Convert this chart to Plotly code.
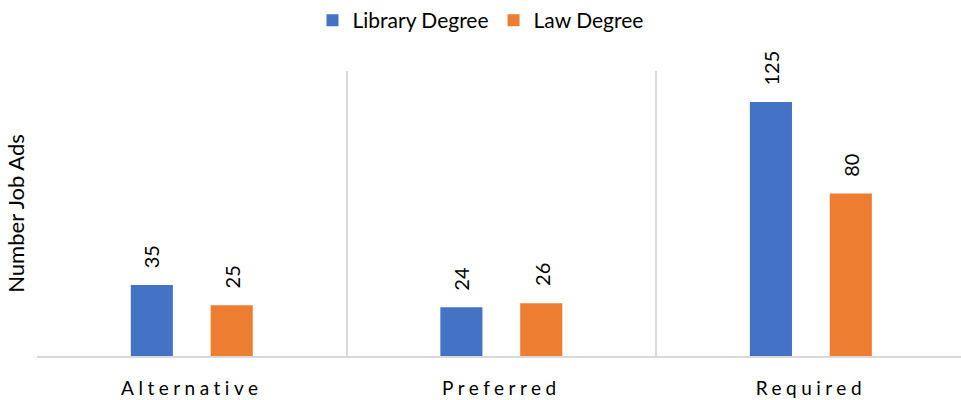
import plotly.graph_objects as go

# Job-ad counts by degree requirement
categories = ["Alternative", "Preferred", "Required"]
library_degree = [35, 24, 125]
law_degree = [25, 26, 80]
series_names = ["Library Degree", "Law Degree"]

BLUE = "#4472C4"
ORANGE = "#ED7D31"
GRID = "#D9D9D9"
FONT = "Lato, 'Open Sans', sans-serif"

fig = go.Figure()
fig.add_trace(go.Bar(name=series_names[0], x=categories, y=library_degree,
                     marker=dict(color=BLUE, line=dict(width=0))))
fig.add_trace(go.Bar(name=series_names[1], x=categories, y=law_degree,
                     marker=dict(color=ORANGE, line=dict(width=0))))

# value labels, rotated, sitting a little above each bar
group_half = 0.129
for i, cat in enumerate(categories):
    for vals, dx in ((library_degree, -group_half), (law_degree, group_half)):
        fig.add_annotation(x=i + dx, y=vals[i], text=str(vals[i]), textangle=-90,
                           showarrow=False, xanchor="center", yanchor="bottom",
                           yshift=15, font=dict(family=FONT, size=20, color="#000000"))

fig.update_layout(
    width=961, height=400,
    margin=dict(l=37, r=0, t=71, b=44),
    paper_bgcolor="white", plot_bgcolor="white",
    barmode="group", bargap=0.484, bargroupgap=0.473,
    font=dict(family=FONT, size=19, color="#000000"),
    showlegend=True,
    legend=dict(orientation="h", x=0.5, xanchor="center", xref="container",
                y=1.0, yanchor="top", yref="container",
                font=dict(family=FONT, size=21, color="#000000"),
                itemsizing="constant", traceorder="normal"),
    xaxis=dict(
        type="category", range=[-0.5, 2.485],
        tickson="boundaries", ticks="", showgrid=True, gridcolor=GRID, gridwidth=1.5,
        showline=True, linecolor=GRID, linewidth=2,
        ticklabelstandoff=14,
        tickfont=dict(family=FONT, size=19, color="#000000"),
        fixedrange=True,
    ),
    yaxis=dict(
        range=[0, 140.3], showgrid=False, zeroline=False, showline=False,
        showticklabels=False, ticks="",
        title=dict(text="Number Job Ads", standoff=5,
                   font=dict(family=FONT, size=22, color="#000000")),
        automargin=False,
    ),
)

post = """
var gd = document.getElementById('{plot_id}');
function spaceTicks(){
  gd.querySelectorAll('.xtick text').forEach(function(t){ t.style.letterSpacing = '4.5px'; });
}
spaceTicks();
gd.on('plotly_afterplot', spaceTicks);
"""

fig.write_html("out.html", post_script=post)
